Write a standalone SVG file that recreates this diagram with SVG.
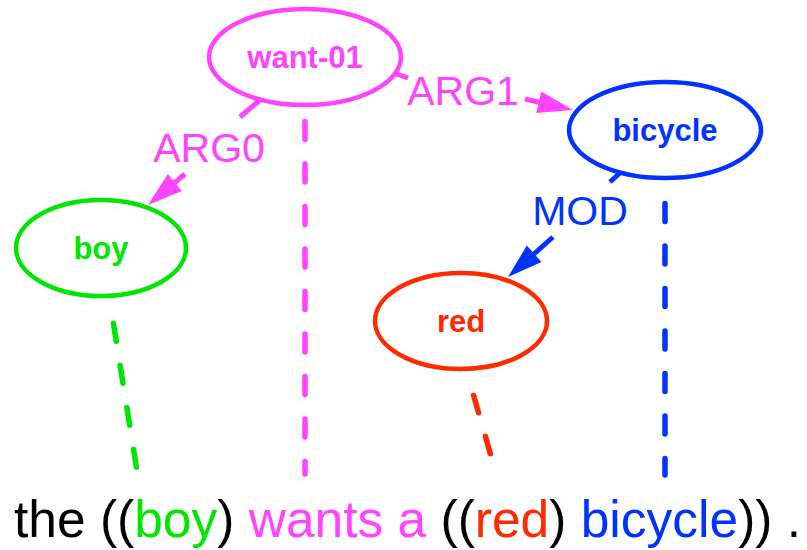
<svg xmlns="http://www.w3.org/2000/svg" width="807" height="550" viewBox="0 0 807 550">
  <style>
    .node { fill: #ffffff; stroke-width: 4.5; }
    .nlabel { font-family: "Liberation Sans", Arial, sans-serif; font-weight: bold; font-size: 31px; text-anchor: middle; }
    .elabel { font-family: "Liberation Sans", Arial, sans-serif; font-size: 41px; text-anchor: middle; }
    .edge { fill: none; stroke-width: 5; }
    .align { fill: none; stroke-width: 5.5; stroke-linecap: round; stroke-dasharray: 18 24.5; }
    .pink { stroke: #ff44ff; }
    .green { stroke: #00e600; }
    .red { stroke: #ff2a00; }
    .blue { stroke: #0033ff; }
    .sent { font-family: "Liberation Sans", Arial, sans-serif; font-size: 51.5px; }
  </style>
  <defs>
    <marker id="arrPink" markerUnits="userSpaceOnUse" markerWidth="40" markerHeight="26" viewBox="0 -13 36 26" refX="5" refY="0" orient="auto">
      <path d="M0,-11 L35,0 L0,11 Z" fill="#ff44ff"/>
    </marker>
    <marker id="arrBlue" markerUnits="userSpaceOnUse" markerWidth="40" markerHeight="26" viewBox="0 -13 36 26" refX="5" refY="0" orient="auto">
      <path d="M0,-11 L35,0 L0,11 Z" fill="#0033ff"/>
    </marker>
  </defs>

  <g id="connectors">
    <!-- alignment lines -->
    <path class="align green" d="M113.4,323.5 L137,471"/>
    <path class="align pink" d="M305,121.5 L305,474"/>
    <path class="align red" d="M473.6,395.5 L491,456"/>
    <path class="align blue" d="M665,203.5 L665,475"/>
    <!-- ARG0 -->
    <path class="edge pink" d="M260,100 L240,117"/>
    <path class="edge pink" d="M185,174 L171,185.7" marker-end="url(#arrPink)"/>
    <text class="elabel" x="209" y="162" fill="#ff44ff">ARG0</text>
    <!-- ARG1 -->
    <path class="edge pink" d="M395,73.5 L408,78"/>
    <path class="edge pink" d="M525,99 L543.7,103.3" marker-end="url(#arrPink)"/>
    <text class="elabel" x="463" y="105" fill="#ff44ff">ARG1</text>
    <!-- MOD -->
    <path class="edge blue" d="M621,172 L610,182"/>
    <path class="edge blue" d="M553,237 L530.4,257.1" marker-end="url(#arrBlue)"/>
    <text class="elabel" x="580" y="225" fill="#0033ff">MOD</text>
  </g>

  <g id="want-01">
    <ellipse class="node pink" cx="305" cy="57" rx="96" ry="48"/>
    <text class="nlabel" x="305" y="68" fill="#ff44ff">want-01</text>
  </g>
  <g id="bicycle">
    <ellipse class="node blue" cx="665" cy="130" rx="96" ry="48"/>
    <text class="nlabel" x="665" y="141" fill="#0033ff">bicycle</text>
  </g>
  <g id="boy">
    <ellipse class="node green" cx="101" cy="248" rx="85" ry="48"/>
    <text class="nlabel" x="101" y="259" fill="#00e600">boy</text>
  </g>
  <g id="red">
    <ellipse class="node red" cx="461" cy="321" rx="86" ry="48"/>
    <text class="nlabel" x="461" y="332" fill="#ff2a00">red</text>
  </g>

  <g id="sentence">
    <text class="sent" x="14" y="537" fill="#000000" xml:space="preserve">the ((<tspan fill="#00e600">boy</tspan>) <tspan fill="#ff44ff">wants a</tspan> ((<tspan fill="#ff2a00">red</tspan>) <tspan fill="#0033ff">bicycle</tspan>)) .</text>
  </g>
</svg>
